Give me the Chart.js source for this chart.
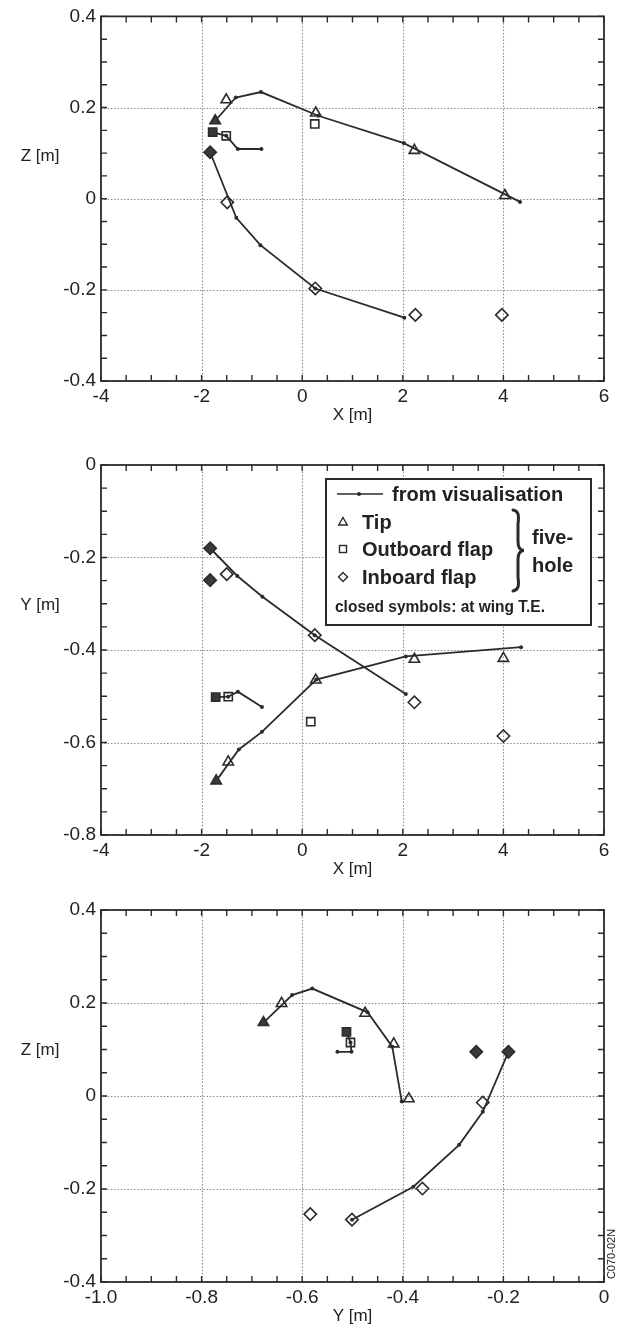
<!DOCTYPE html>
<html>
<head>
<meta charset="utf-8">
<script src="https://cdn.jsdelivr.net/npm/chart.js@4.4.1/dist/chart.umd.min.js"></script>
<style>
  html, body { margin: 0; padding: 0; background: #fff; }
  body { width: 622px; height: 1331px; position: relative; overflow: hidden; }
  canvas { position: absolute; left: 0; }
</style>
</head>
<body>
<canvas id="xz" width="622" height="440" style="top:0px"></canvas>
<canvas id="xy" width="622" height="440" style="top:440px"></canvas>
<canvas id="yz" width="622" height="451" style="top:880px"></canvas>
<script>
// ---- axes : major ticks and labels ----
const X_MAJOR = [-4, -2, 0, 2, 4, 6];
const X_LABELS = ['-4', '-2', '0', '2', '4', '6'];
const Z_MAJOR = [-0.4, -0.2, 0, 0.2, 0.4];
const Z_LABELS = ['-0.4', '-0.2', '0', '0.2', '0.4'];
const Y_MAJOR = [-0.8, -0.6, -0.4, -0.2, 0];
const Y_LABELS = ['-0.8', '-0.6', '-0.4', '-0.2', '0'];
const YH_MAJOR = [-1.0, -0.8, -0.6, -0.4, -0.2, 0];
const YH_LABELS = ['-1.0', '-0.8', '-0.6', '-0.4', '-0.2', '0'];

// ---- X-Z plane ----
const XZ_TIP_VIS = [[-1.73, 0.171], [-1.32, 0.222], [-0.82, 0.234], [0.32, 0.182], [2.02, 0.122], [4.33, -0.007]];
const XZ_TIP_OPEN = [[-1.51, 0.217], [0.27, 0.188], [2.23, 0.106], [4.03, 0.007]];
const XZ_TIP_CLOSED = [[-1.73, 0.171]];
const XZ_OUT_VIS = [[-1.78, 0.146], [-1.51, 0.138], [-1.28, 0.109], [-0.81, 0.109]];
const XZ_OUT_OPEN = [[-1.51, 0.138], [0.25, 0.164]];
const XZ_OUT_CLOSED = [[-1.78, 0.146]];
const XZ_IN_VIS = [[-1.83, 0.102], [-1.31, -0.042], [-0.83, -0.102], [0.26, -0.197], [2.03, -0.261]];
const XZ_IN_OPEN = [[-1.49, -0.008], [0.26, -0.197], [2.25, -0.255], [3.97, -0.255]];
const XZ_IN_CLOSED = [[-1.83, 0.102]];

// ---- X-Y plane ----
const XY_TIP_VIS = [[-1.71, -0.683], [-1.26, -0.615], [-0.80, -0.577], [0.28, -0.464], [2.06, -0.414], [4.35, -0.394]];
const XY_TIP_OPEN = [[-1.47, -0.642], [0.27, -0.465], [2.23, -0.42], [4.0, -0.418]];
const XY_TIP_CLOSED = [[-1.71, -0.683]];
const XY_OUT_VIS = [[-1.72, -0.502], [-1.47, -0.501], [-1.28, -0.490], [-0.80, -0.523]];
const XY_OUT_OPEN = [[-1.47, -0.501], [0.17, -0.555]];
const XY_OUT_CLOSED = [[-1.72, -0.502]];
const XY_IN_VIS = [[-1.83, -0.18], [-1.29, -0.240], [-0.79, -0.285], [0.25, -0.368], [2.06, -0.495]];
const XY_IN_OPEN = [[-1.50, -0.236], [0.25, -0.368], [2.23, -0.513], [4.0, -0.586]];
const XY_IN_CLOSED = [[-1.83, -0.18], [-1.83, -0.249]];

// ---- Y-Z plane ----
const YZ_TIP_VIS = [[-0.677, 0.158], [-0.620, 0.217], [-0.580, 0.231], [-0.470, 0.180], [-0.421, 0.106], [-0.402, -0.012]];
const YZ_TIP_OPEN = [[-0.641, 0.199], [-0.475, 0.178], [-0.418, 0.112], [-0.388, -0.006]];
const YZ_TIP_CLOSED = [[-0.677, 0.158]];
const YZ_OUT_VIS = [[-0.512, 0.138], [-0.504, 0.115], [-0.502, 0.095], [-0.530, 0.095]];
const YZ_OUT_OPEN = [[-0.504, 0.115]];
const YZ_OUT_CLOSED = [[-0.512, 0.138]];
const YZ_IN_VIS = [[-0.190, 0.095], [-0.241, -0.034], [-0.288, -0.105], [-0.379, -0.195], [-0.501, -0.266]];
const YZ_IN_OPEN = [[-0.241, -0.014], [-0.361, -0.199], [-0.501, -0.266], [-0.584, -0.254]];
const YZ_IN_CLOSED = [[-0.190, 0.095], [-0.254, 0.095]];

// ---- legend texts ----
const LEGEND_ROWS = ['from visualisation', 'Tip', 'Outboard flap', 'Inboard flap'];
const LEGEND_GROUP = ['five-', 'hole'];
const LEGEND_NOTE = 'closed symbols: at wing T.E.';
const FIGURE_TAG = 'C070-02N';

const INK = '#2b2b2b';
const FILL = '#3a3a3a';
const GRID = '#8a8a8a';
const TEXT = '#222';
const FONT = '"Liberation Sans", Arial, Helvetica, sans-serif';

function pts(arr) {
  return arr.map(([x, y]) => ({ x, y }));
}

function marker(data, style, filled, r) {
  return {
    data: pts(data),
    showLine: false,
    pointStyle: style,
    pointRadius: r,
    pointHoverRadius: r,
    pointBorderWidth: 1.6,
    pointBorderColor: INK,
    pointBackgroundColor: filled ? FILL : 'rgba(255,255,255,0)'
  };
}

function vis(data) {
  return {
    data: pts(data),
    showLine: true,
    fill: false,
    tension: 0,
    borderColor: INK,
    borderWidth: 1.8,
    pointStyle: 'circle',
    pointRadius: 2,
    pointHoverRadius: 2,
    pointBorderWidth: 0,
    pointBackgroundColor: INK
  };
}

function tickValues(min, max, step) {
  const out = [];
  const n = Math.round((max - min) / step);
  for (let i = 0; i <= n; i++) out.push(Math.round((min + i * step) * 10000) / 10000);
  return out;
}

function labelFor(v, major, labels) {
  const i = major.findIndex(m => Math.abs(m - v) < 1e-6);
  return i >= 0 ? labels[i] : '';
}

// grid, frame, inward ticks and the horizontal y title
const framePlugin = {
  id: 'frame',
  beforeDatasetsDraw(chart, args, opts) {
    const { ctx, chartArea: a, scales: { x, y } } = chart;
    ctx.save();
    ctx.strokeStyle = GRID;
    ctx.lineWidth = 1.1;
    ctx.setLineDash([1.5, 1.8]);
    opts.xMajor.forEach(v => {
      const px = Math.round(x.getPixelForValue(v)) + 0.5;
      if (px <= a.left + 2 || px >= a.right - 2) return;
      ctx.beginPath(); ctx.moveTo(px, a.top); ctx.lineTo(px, a.bottom); ctx.stroke();
    });
    opts.yMajor.forEach(v => {
      const py = Math.round(y.getPixelForValue(v)) + 0.5;
      if (py <= a.top + 2 || py >= a.bottom - 2) return;
      ctx.beginPath(); ctx.moveTo(a.left, py); ctx.lineTo(a.right, py); ctx.stroke();
    });
    ctx.restore();
  },
  afterDatasetsDraw(chart, args, opts) {
    const { ctx, chartArea: a, scales: { x, y } } = chart;
    ctx.save();
    ctx.strokeStyle = INK;
    ctx.lineWidth = 1.4;
    const t = 6;
    x.ticks.forEach(tk => {
      const px = x.getPixelForValue(tk.value);
      ctx.beginPath();
      ctx.moveTo(px, a.bottom); ctx.lineTo(px, a.bottom - t);
      ctx.moveTo(px, a.top); ctx.lineTo(px, a.top + t);
      ctx.stroke();
    });
    y.ticks.forEach(tk => {
      const py = y.getPixelForValue(tk.value);
      ctx.beginPath();
      ctx.moveTo(a.left, py); ctx.lineTo(a.left + t, py);
      ctx.moveTo(a.right, py); ctx.lineTo(a.right - t, py);
      ctx.stroke();
    });
    ctx.lineWidth = 1.8;
    ctx.strokeRect(a.left, a.top, a.right - a.left, a.bottom - a.top);

    ctx.fillStyle = TEXT;
    ctx.font = '17px ' + FONT;
    ctx.textAlign = 'center';
    ctx.textBaseline = 'middle';
    ctx.fillText(opts.yTitle, 40, a.top + 140);

    if (opts.tag) {
      ctx.save();
      ctx.translate(a.right + 8, a.bottom - 28);
      ctx.rotate(-Math.PI / 2);
      ctx.font = '11px ' + FONT;
      ctx.fillText(opts.tag, 0, 0);
      ctx.restore();
    }
    if (opts.legend) drawLegend(ctx, a);
    ctx.restore();
  }
};

function drawLegend(ctx, a) {
  const bx = a.left + 225, by = a.top + 14, bw = 265, bh = 146;
  ctx.save();
  ctx.fillStyle = '#fff';
  ctx.fillRect(bx, by, bw, bh);
  ctx.lineWidth = 2;
  ctx.strokeStyle = INK;
  ctx.strokeRect(bx, by, bw, bh);

  // line symbol
  ctx.lineWidth = 1.6;
  ctx.beginPath(); ctx.moveTo(bx + 11, by + 15); ctx.lineTo(bx + 57, by + 15); ctx.stroke();
  ctx.fillStyle = INK;
  ctx.beginPath(); ctx.arc(bx + 33, by + 15, 2, 0, Math.PI * 2); ctx.fill();

  // open symbols
  const sx = bx + 17;
  ctx.lineWidth = 1.4;
  let cy = by + 43;
  ctx.beginPath();
  ctx.moveTo(sx, cy - 4.5); ctx.lineTo(sx + 4.3, cy + 3); ctx.lineTo(sx - 4.3, cy + 3); ctx.closePath();
  ctx.stroke();
  cy = by + 70;
  ctx.strokeRect(sx - 3.5, cy - 3.5, 7, 7);
  cy = by + 98;
  ctx.beginPath();
  ctx.moveTo(sx, cy - 4.5); ctx.lineTo(sx + 4.5, cy); ctx.lineTo(sx, cy + 4.5); ctx.lineTo(sx - 4.5, cy); ctx.closePath();
  ctx.stroke();

  ctx.fillStyle = TEXT;
  ctx.textAlign = 'left';
  ctx.textBaseline = 'middle';
  ctx.font = 'bold 20px ' + FONT;
  ctx.fillText(LEGEND_ROWS[0], bx + 66, by + 16);
  ctx.fillText(LEGEND_ROWS[1], bx + 36, by + 44);
  ctx.fillText(LEGEND_ROWS[2], bx + 36, by + 71);
  ctx.fillText(LEGEND_ROWS[3], bx + 36, by + 99);
  ctx.fillText(LEGEND_GROUP[0], bx + 206, by + 59);
  ctx.fillText(LEGEND_GROUP[1], bx + 206, by + 87);

  // brace
  const L = bx + 187, R = bx + 198, T = by + 31, B = by + 112, M = (T + B) / 2;
  ctx.lineWidth = 3;
  ctx.lineCap = 'round';
  ctx.strokeStyle = INK;
  ctx.beginPath();
  ctx.moveTo(L, T);
  ctx.bezierCurveTo(L + 6, T + 1, L + 6, T + 6, L + 5, T + 14);
  ctx.lineTo(L + 5, M - 9);
  ctx.bezierCurveTo(L + 5, M - 3, L + 7, M, R, M);
  ctx.bezierCurveTo(L + 7, M, L + 5, M + 3, L + 5, M + 9);
  ctx.lineTo(L + 5, B - 14);
  ctx.bezierCurveTo(L + 6, B - 6, L + 6, B - 1, L, B);
  ctx.stroke();

  // condensed note
  ctx.font = 'bold 17px ' + FONT;
  const w = ctx.measureText(LEGEND_NOTE).width;
  ctx.translate(bx + 9, by + 128);
  ctx.scale(210 / w, 1);
  ctx.fillText(LEGEND_NOTE, 0, 0);
  ctx.restore();
}

function makePanel(p) {
  const canvas = document.getElementById(p.id);
  const H = canvas.height;
  const tickFont = { family: FONT, size: 19 };
  const datasets = [
    marker(p.tipClosed, 'triangle', true, 6),
    marker(p.outClosed, 'rect', true, 5.8),
    marker(p.inClosed, 'rectRot', true, 6.2),
    marker(p.tipOpen, 'triangle', false, 6),
    marker(p.outOpen, 'rect', false, 5.8),
    marker(p.inOpen, 'rectRot', false, 6.2),
    vis(p.tipVis),
    vis(p.outVis),
    vis(p.inVis)
  ];
  return new Chart(canvas, {
    type: 'scatter',
    data: { datasets },
    options: {
      responsive: false,
      animation: false,
      events: [],
      layout: { padding: { left: 0, right: 18, top: p.plotTop, bottom: H - p.plotBottom - p.xBox } },
      plugins: {
        legend: { display: false },
        tooltip: { enabled: false },
        frame: { xMajor: p.x.major, yMajor: p.y.major, yTitle: p.y.title, legend: !!p.legend, tag: p.tag || '' }
      },
      scales: {
        x: {
          type: 'linear',
          min: p.x.min,
          max: p.x.max,
          afterBuildTicks: s => { s.ticks = tickValues(p.x.min, p.x.max, p.x.step).map(v => ({ value: v })); },
          afterFit: s => { s.height = p.xBox; },
          ticks: {
            autoSkip: false, maxRotation: 0, minRotation: 0, padding: 4,
            color: TEXT, font: tickFont,
            callback: v => labelFor(v, p.x.major, p.x.labels)
          },
          grid: { display: false, drawTicks: false },
          border: { display: false },
          title: { display: true, text: p.x.title, color: TEXT, font: { family: FONT, size: 17 }, padding: 0 }
        },
        y: {
          type: 'linear',
          min: p.y.min,
          max: p.y.max,
          afterBuildTicks: s => { s.ticks = tickValues(p.y.min, p.y.max, p.y.step).map(v => ({ value: v })); },
          afterFit: s => { s.width = 101; },
          ticks: {
            autoSkip: false, padding: 5,
            color: TEXT, font: tickFont,
            callback: v => labelFor(v, p.y.major, p.y.labels)
          },
          grid: { display: false, drawTicks: false },
          border: { display: false }
        }
      }
    },
    plugins: [framePlugin]
  });
}

makePanel({
  id: 'xz', plotTop: 13, plotBottom: 381, xBox: 45,
  x: { min: -4, max: 6, step: 0.5, major: X_MAJOR, labels: X_LABELS, title: 'X [m]' },
  y: { min: -0.4, max: 0.4, step: 0.05, major: Z_MAJOR, labels: Z_LABELS, title: 'Z [m]' },
  tipVis: XZ_TIP_VIS, tipOpen: XZ_TIP_OPEN, tipClosed: XZ_TIP_CLOSED,
  outVis: XZ_OUT_VIS, outOpen: XZ_OUT_OPEN, outClosed: XZ_OUT_CLOSED,
  inVis: XZ_IN_VIS, inOpen: XZ_IN_OPEN, inClosed: XZ_IN_CLOSED
});

makePanel({
  id: 'xy', plotTop: 25, plotBottom: 395, xBox: 45, legend: true,
  x: { min: -4, max: 6, step: 0.5, major: X_MAJOR, labels: X_LABELS, title: 'X [m]' },
  y: { min: -0.8, max: 0, step: 0.05, major: Y_MAJOR, labels: Y_LABELS, title: 'Y [m]' },
  tipVis: XY_TIP_VIS, tipOpen: XY_TIP_OPEN, tipClosed: XY_TIP_CLOSED,
  outVis: XY_OUT_VIS, outOpen: XY_OUT_OPEN, outClosed: XY_OUT_CLOSED,
  inVis: XY_IN_VIS, inOpen: XY_IN_OPEN, inClosed: XY_IN_CLOSED
});

makePanel({
  id: 'yz', plotTop: 30, plotBottom: 402, xBox: 45, tag: FIGURE_TAG,
  x: { min: -1.0, max: 0, step: 0.05, major: YH_MAJOR, labels: YH_LABELS, title: 'Y [m]' },
  y: { min: -0.4, max: 0.4, step: 0.05, major: Z_MAJOR, labels: Z_LABELS, title: 'Z [m]' },
  tipVis: YZ_TIP_VIS, tipOpen: YZ_TIP_OPEN, tipClosed: YZ_TIP_CLOSED,
  outVis: YZ_OUT_VIS, outOpen: YZ_OUT_OPEN, outClosed: YZ_OUT_CLOSED,
  inVis: YZ_IN_VIS, inOpen: YZ_IN_OPEN, inClosed: YZ_IN_CLOSED
});
</script>
</body>
</html>
